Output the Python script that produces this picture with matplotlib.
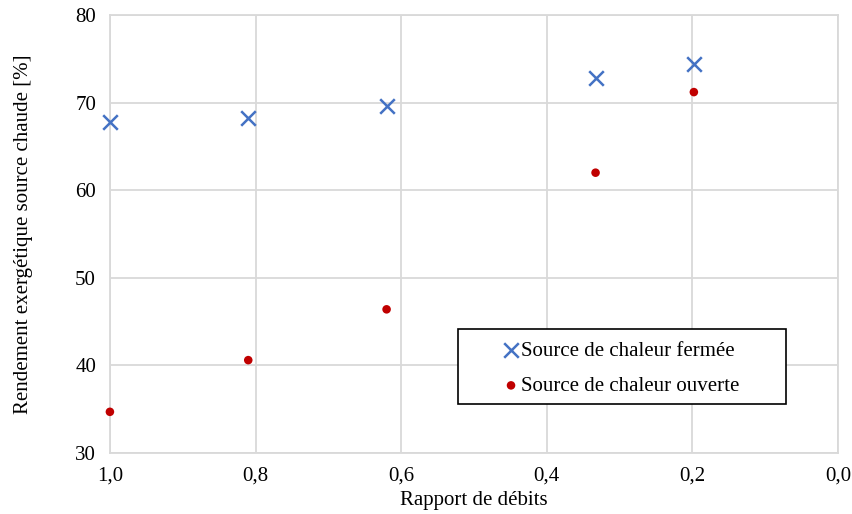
import matplotlib
matplotlib.use("Agg")
import matplotlib.pyplot as plt
from matplotlib.ticker import FuncFormatter
from matplotlib.patches import Rectangle

plt.rcParams['font.family'] = ['Liberation Serif', 'DejaVu Serif']

rapport = [1.0, 0.81, 0.62, 0.333, 0.198]
fermee = [67.8, 68.2, 69.6, 72.8, 74.4]
ouverte = [34.7, 40.6, 46.4, 62.0, 71.2]
xticks = [1.0, 0.8, 0.6, 0.4, 0.2, 0.0]
yticks = [30, 40, 50, 60, 70, 80]

fig = plt.figure(figsize=(8.52, 5.14), dpi=100)
ax = fig.add_axes([0.129, 0.1187, 0.8546, 0.8521])

ax.scatter(rapport, fermee, marker='x', s=110, color='#4472C4', linewidths=1.8,
           label='Source de chaleur fermée', zorder=3, clip_on=False)
ax.scatter(rapport, ouverte, marker='o', s=38, color='#C00000', edgecolors='none',
           label='Source de chaleur ouverte', zorder=3, clip_on=False)

ax.set_xlim(1.0, 0.0)
ax.set_ylim(30, 80)
ax.set_xticks(xticks)
ax.set_yticks(yticks)
ax.xaxis.set_major_formatter(FuncFormatter(lambda v, p: f"{v:.1f}".replace('.', ',')))
ax.grid(True, color='#d9d9d9', linewidth=1.3)
ax.set_axisbelow(True)
for s in ax.spines.values():
    s.set_color('#d9d9d9')
    s.set_linewidth(1.3)
ax.tick_params(length=0, labelsize=15)
ax.tick_params(axis='y', pad=10)
ax.tick_params(axis='x', pad=10)

ax.set_xlabel('Rapport de débits', fontsize=15, labelpad=4)
ax.set_ylabel('Rendement exergétique source chaude [%]', fontsize=15, labelpad=30)

box = Rectangle((0.478, 0.112), 0.4506, 0.171, transform=ax.transAxes,
                facecolor='white', edgecolor='black', linewidth=1.2, zorder=4)
ax.add_patch(box)
leg = ax.legend(loc='center', bbox_to_anchor=(0.703, 0.193), fontsize=15,
                frameon=False, handlelength=0.7, handletextpad=0.15,
                borderpad=0.0, labelspacing=0.75)
leg.set_zorder(5)

fig.savefig('out.png', dpi=100)
